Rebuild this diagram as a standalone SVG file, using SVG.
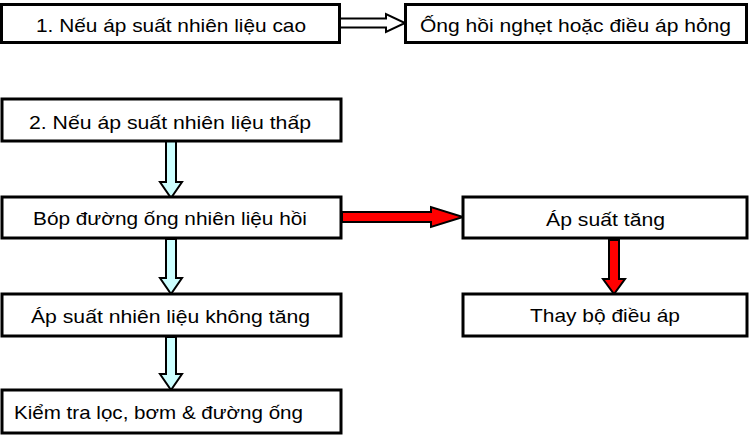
<svg xmlns="http://www.w3.org/2000/svg" width="749" height="435" viewBox="0 0 749 435">
<style>
.box{fill:#fff;stroke:#000;stroke-width:3}
.t{font-family:"Liberation Sans",Arial,sans-serif;font-size:18.5px;fill:#000;text-anchor:middle}
.tl{text-anchor:start}
.hollow{fill:#fff;stroke:#000;stroke-width:2;stroke-linejoin:miter}
.cyan{fill:#ccffff;stroke:#000;stroke-width:2;stroke-linejoin:miter}
.red{fill:#ff0000;stroke:#000;stroke-width:2;stroke-linejoin:miter}
</style>
<rect width="749" height="435" fill="#fff"/>
<g id="connectors">
<polygon class="hollow" points="340,18.5 386,18.5 386,14 405,23 386,32 386,27.5 340,27.5"/>
<polygon class="cyan" points="166,141 176,141 176,182 182,182 171,198 160,182 166,182"/>
<polygon class="cyan" points="166,239 176,239 176,278 182,278 171,294 160,278 166,278"/>
<polygon class="cyan" points="166,337 176,337 176,374 182,374 171,390 160,374 166,374"/>
<polygon class="red" points="342,212 431,212 431,207 463,217 431,227 431,222 342,222"/>
<polygon class="red" points="609,240 619,240 619,279 625,279 614,294 603,279 609,279"/>
</g>
<g id="n1"><rect class="box" x="1.5" y="4.5" width="338" height="38"/><text class="t" x="171" y="32" textLength="270" lengthAdjust="spacingAndGlyphs">1. Nếu áp suất nhiên liệu cao</text></g>
<g id="n2"><rect class="box" x="405.5" y="4.5" width="341" height="38"/><text class="t" x="575.5" y="32" textLength="311" lengthAdjust="spacingAndGlyphs">Ống hồi nghẹt hoặc điều áp hỏng</text></g>
<g id="n3"><rect class="box" x="2" y="99" width="339" height="42"/><text class="t" x="170" y="129" textLength="282" lengthAdjust="spacingAndGlyphs">2. Nếu áp suất nhiên liệu thấp</text></g>
<g id="n4"><rect class="box" x="2" y="197" width="339" height="41"/><text class="t" x="170" y="225" textLength="274" lengthAdjust="spacingAndGlyphs">Bóp đường ống nhiên liệu hồi</text></g>
<g id="n5"><rect class="box" x="463" y="197" width="284" height="41"/><text class="t" x="605.5" y="225.5" textLength="119" lengthAdjust="spacingAndGlyphs">Áp suất tăng</text></g>
<g id="n6"><rect class="box" x="2" y="294" width="339" height="42"/><text class="t" x="170.5" y="323" textLength="279" lengthAdjust="spacingAndGlyphs">Áp suất nhiên liệu không tăng</text></g>
<g id="n7"><rect class="box" x="463" y="294" width="284" height="42"/><text class="t" x="605" y="322" textLength="150" lengthAdjust="spacingAndGlyphs">Thay bộ điều áp</text></g>
<g id="n8"><rect class="box" x="2" y="390" width="339" height="43"/><text class="t tl" x="14" y="419" textLength="289" lengthAdjust="spacingAndGlyphs">Kiểm tra lọc, bơm &amp; đường ống</text></g>
</svg>
